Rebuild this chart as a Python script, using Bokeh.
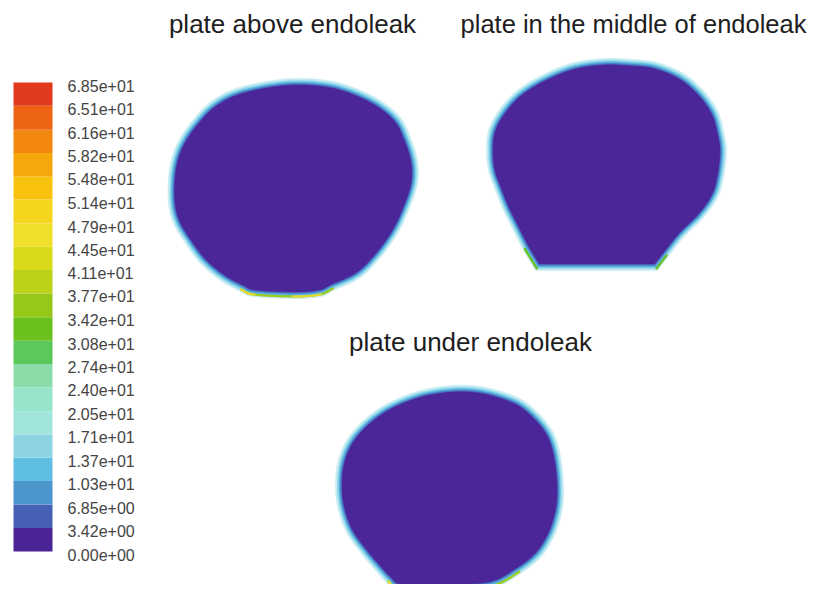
from bokeh.plotting import figure
from bokeh.models import Range1d
from bokeh.embed import file_html
from bokeh.resources import INLINE
from bokeh.core.properties import value

# ---- colour scale (bottom to top) ----
level_labels = ["0.00e+00", "3.42e+00", "6.85e+00", "1.03e+01", "1.37e+01", "1.71e+01",
                "2.05e+01", "2.40e+01", "2.74e+01", "3.08e+01", "3.42e+01", "3.77e+01",
                "4.11e+01", "4.45e+01", "4.79e+01", "5.14e+01", "5.48e+01", "5.82e+01",
                "6.16e+01", "6.51e+01", "6.85e+01"]
levels = [float(s) for s in level_labels]
band_colors = ["#4a2496", "#4660b6", "#4c96ce", "#60bee2", "#8cd4e4", "#a0e4dc",
               "#96e4ca", "#8cdcaa", "#5cc85c", "#6cc01e", "#96c81a", "#bcd218",
               "#d8da1a", "#f0e02c", "#f4d61e", "#f8c20e", "#f6a80a", "#f28810",
               "#ec6414", "#e13a1c"]

# ---- panel titles ----
titles = ["plate above endoleak", "plate in the middle of endoleak", "plate under endoleak"]
title_x = [292, 633, 470]
title_y = [23, 23, 341]
title_sizes = ["26px", "25.5px", "26px"]

# ---- outlines of the three cross-sections (picture coordinates) ----
above_x = [293, 327, 353, 380, 400, 410, 417, 417, 408, 397, 380, 360, 333, 320, 293, 253, 240, 220, 200, 185, 173, 168, 168, 172, 180, 192, 208, 230, 260]
above_y = [78, 80, 87, 100, 117, 137, 160, 183, 210, 233, 257, 277, 290, 296, 298, 296, 291, 280, 263, 243, 223, 203, 177, 155, 137, 120, 103, 90, 82]
middle_x = [603, 633, 657, 683, 703, 717, 723, 726, 723, 717, 703, 683, 667, 657, 596, 535, 523, 513, 503, 495, 488, 486, 488, 497, 513, 537, 570]
middle_y = [58, 59, 62, 73, 90, 110, 130, 150, 177, 197, 217, 237, 257, 270, 270, 270, 250, 230, 210, 190, 170, 150, 130, 112, 93, 77, 63]
middle_corners = [13, 15]
under_x = [453, 480, 507, 527, 547, 557, 562, 563, 560, 553, 540, 520, 497, 470, 430, 397, 387, 375, 360, 346, 338, 335, 337, 346, 363, 387, 420]
under_y = [385, 386, 393, 403, 423, 443, 470, 497, 517, 537, 557, 573, 586, 590, 591, 590, 583, 570, 552, 532, 510, 488, 463, 440, 420, 403, 390]

# hot spots along the wall: (first outline index, last outline index, colour)
above_hot = [(12, 16, "#9ccc1c"), (13, 14, "#e6dc2a"), (15, 16, "#e6dc2a")]
middle_hot = [(12, 13, "#6cc01e"), (15, 16, "#6cc01e")]
under_hot = [(11, 16, "#9ccc1c"), (15, 16, "#e6dc2a")]

rim_colors = ["#c4ecf2", "#8ed8ea", "#5ab2de", "#4a78c4", "#4a2698"]
rim_insets = [0.0, 2.0, 3.5, 5.0, 6.5]

p = figure(width=811, height=584, x_range=Range1d(0, 811), y_range=Range1d(584, 0),
           output_backend="svg", toolbar_location=None, min_border=0,
           x_axis_location=None, y_axis_location=None)
p.grid.visible = False
p.outline_line_color = None
p.background_fill_color = "#ffffff"
p.border_fill_color = "#ffffff"
p.extra_y_ranges = {"cb": Range1d(start=-4.82, end=80.48)}

# colour bar
p.quad(left=13, right=52, bottom=levels[:-1], top=levels[1:], fill_color=band_colors,
       line_color=None, y_range_name="cb")
p.text(x=[67] * len(levels), y=levels, text=level_labels, y_range_name="cb",
       text_align="left", text_baseline="middle", y_offset=3,
       text_font=value("Liberation Sans"), text_font_size="16px", text_color="#444444")


def spline(xs, ys, corners=(), n=8):
    m = len(xs)
    ox, oy = [], []
    for i in range(m):
        i0, i1, i2, i3 = (i - 1) % m, i, (i + 1) % m, (i + 2) % m
        if i1 in corners:
            i0 = i1
        if i2 in corners:
            i3 = i2
        p0 = (xs[i0], ys[i0])
        p1 = (xs[i1], ys[i1])
        p2 = (xs[i2], ys[i2])
        p3 = (xs[i3], ys[i3])
        for s in range(n):
            t = s / n
            t2, t3 = t * t, t * t * t
            ox.append(0.5 * (2 * p1[0] + (-p0[0] + p2[0]) * t + (2 * p0[0] - 5 * p1[0] + 4 * p2[0] - p3[0]) * t2 + (-p0[0] + 3 * p1[0] - 3 * p2[0] + p3[0]) * t3))
            oy.append(0.5 * (2 * p1[1] + (-p0[1] + p2[1]) * t + (2 * p0[1] - 5 * p1[1] + 4 * p2[1] - p3[1]) * t2 + (-p0[1] + 3 * p1[1] - 3 * p2[1] + p3[1]) * t3))
    return ox, oy


def inset(xs, ys, d):
    cx = (max(xs) + min(xs)) / 2
    cy = (max(ys) + min(ys)) / 2
    hw = (max(xs) - min(xs)) / 2
    hh = (max(ys) - min(ys)) / 2
    fx = 1 - d / hw
    fy = 1 - d / hh
    return [cx + (x - cx) * fx for x in xs], [cy + (y - cy) * fy for y in ys]


def draw_blob(xs, ys, hot, corners=()):
    n = 8
    for k, (d, c) in enumerate(zip(rim_insets, rim_colors)):
        ix, iy = inset(xs, ys, d)
        sx, sy = spline(ix, iy, corners, n)
        p.patch(sx, sy, fill_color=c, line_color=c, line_width=0.8, line_alpha=0.7)
        if k == 1:
            hx, hy = inset(xs, ys, 2.2)
            shx, shy = spline(hx, hy, corners, n)
            for a, b, col in hot:
                p.line(shx[a * n:b * n + 1], shy[a * n:b * n + 1], line_color=col,
                       line_width=2.5, line_cap="round", line_join="round")


draw_blob(above_x, above_y, above_hot)
draw_blob(middle_x, middle_y, middle_hot, middle_corners)
draw_blob(under_x, under_y, under_hot)

p.text(x=title_x, y=title_y, text=titles, text_align="center", text_baseline="middle",
       text_font=value("Liberation Sans"), text_font_size=title_sizes, text_color="#1e1e1e")

open("out.html", "w").write(file_html(p, INLINE))
